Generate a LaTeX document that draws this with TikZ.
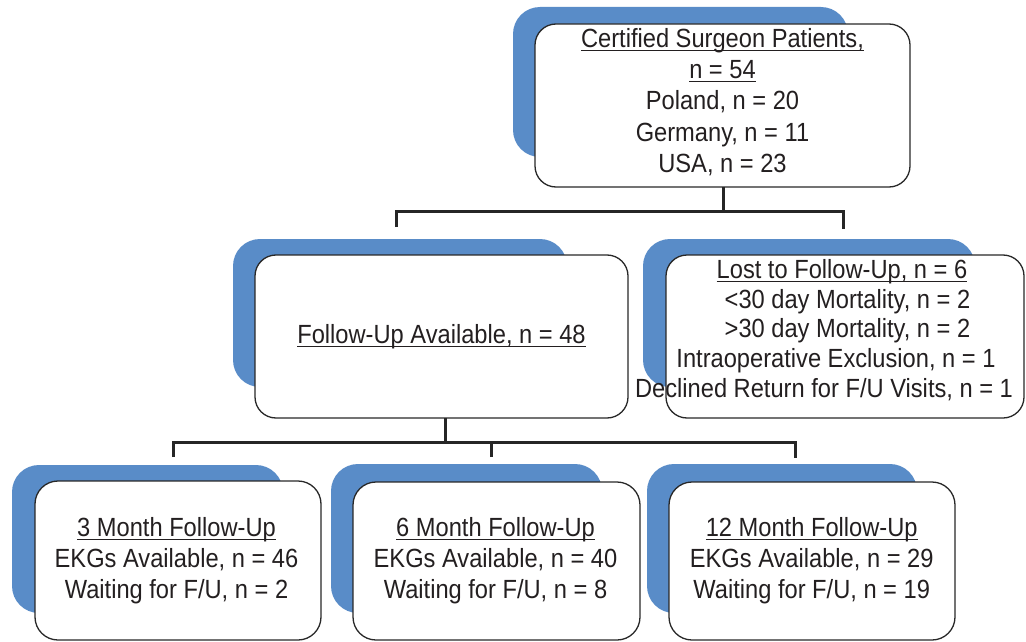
\documentclass[tikz,border=0pt]{standalone}
\usepackage{fontspec}
\setmainfont[FakeStretch=0.90]{Liberation Sans}
\definecolor{shadowblue}{RGB}{89,140,200}
\definecolor{txt}{RGB}{35,31,32}
\definecolor{edge}{RGB}{40,40,40}
\newcommand\myul[1]{\setbox0\hbox{#1}\rlap{\rule[-3.6pt]{\wd0}{1.3pt}}\box0}
\begin{document}
\begin{tikzpicture}[x=1pt,y=-1pt,
  backshape/.style={fill=shadowblue,rounded corners=27pt},
  whitebox/.style={draw=edge,line width=1.3pt,fill=white,rounded corners=21pt},
  label/.style={inner sep=0pt,align=center,text=txt,font=\fontsize{26.3}{31.2}\selectfont},
  lostlabel/.style={inner sep=0pt,align=center,text=txt,font=\fontsize{26.3}{29.75}\selectfont},
  conn/.style={line width=3pt,draw=black!85}]
\useasboundingbox (0,0) rectangle (1026,642);
% blue backing shapes
\fill[backshape] (513,7) rectangle (848,157);
\fill[backshape] (233,239) rectangle (567,387);
\fill[backshape] (643,239) rectangle (975,387);
\fill[backshape] (12,465) rectangle (283,613);
\fill[backshape] (331,464) rectangle (602,613);
\fill[backshape] (647,464) rectangle (917,613);
% white boxes
\draw[whitebox] (535,24) rectangle (910,187);
\draw[whitebox] (255,255) rectangle (628,418);
\draw[whitebox] (666,255) rectangle (1024,418);
\draw[whitebox,rounded corners=23pt] (35,481) rectangle (321,640);
\draw[whitebox,rounded corners=23pt] (353,482) rectangle (640,640);
\draw[whitebox,rounded corners=23pt] (669,482) rectangle (955,640);
% named nodes for boxes
\node[inner sep=0pt,minimum width=375pt,minimum height=163pt] (top) at (722.5,105.5) {};
\node[inner sep=0pt,minimum width=373pt,minimum height=163pt] (fu) at (441.5,336.5) {};
\node[inner sep=0pt,minimum width=358pt,minimum height=163pt] (lost) at (845,336.5) {};
\node[inner sep=0pt,minimum width=286pt,minimum height=159pt] (m3) at (178,560.5) {};
\node[inner sep=0pt,minimum width=287pt,minimum height=158pt] (m6) at (496.5,561) {};
\node[inner sep=0pt,minimum width=286pt,minimum height=158pt] (m12) at (812,561) {};
% texts
\node[label] (toptext) at (722.5,102) {\myul{Certified Surgeon Patients,}\\ \myul{n = 54}\\ Poland, n = 20\\ Germany, n = 11\\ USA, n = 23};
\node[label] (futext) at (441.5,336.4) {\myul{Follow-Up Available, n = 48}};
\node[lostlabel] (losttext) at (836,330.1) {\hspace*{12pt}\myul{Lost to Follow-Up, n = 6}\\ \hspace*{23pt}<30 day Mortality, n = 2\\ \hspace*{23pt}>30 day Mortality, n = 2\\ Intraoperative Exclusion, n = 1\hspace*{16pt}\\ Declined Return for F/U Visits, n = 1\hspace*{24pt}};
\node[label] (m3text) at (176.5,560.9) {\myul{3 Month Follow-Up}\\ EKGs Available, n = 46\\ Waiting for F/U, n = 2};
\node[label] (m6text) at (495.5,560.9) {\myul{6 Month Follow-Up}\\ EKGs Available, n = 40\\ Waiting for F/U, n = 8};
\node[label] (m12text) at (811.7,560.9) {\myul{12 Month Follow-Up}\\ EKGs Available, n = 29\\ Waiting for F/U, n = 19};
% connectors
\coordinate (j1) at (723,211);
\coordinate (d1) at (396,227);
\coordinate (d2) at (843,229);
\draw[conn] (top.south -| j1) -- (j1);
\draw[conn] (d1) |- (j1) -| (d2);
\coordinate (k0) at (445,418);
\coordinate (k1) at (445,442);
\coordinate (e1) at (173,457);
\coordinate (e2) at (491,457);
\coordinate (e3) at (795,458);
\draw[conn] (k0) -- (k1);
\draw[conn] (e1) |- (k1) -| (e3);
\draw[conn] (e2) -- (e2 |- k1);
\end{tikzpicture}
\end{document}
